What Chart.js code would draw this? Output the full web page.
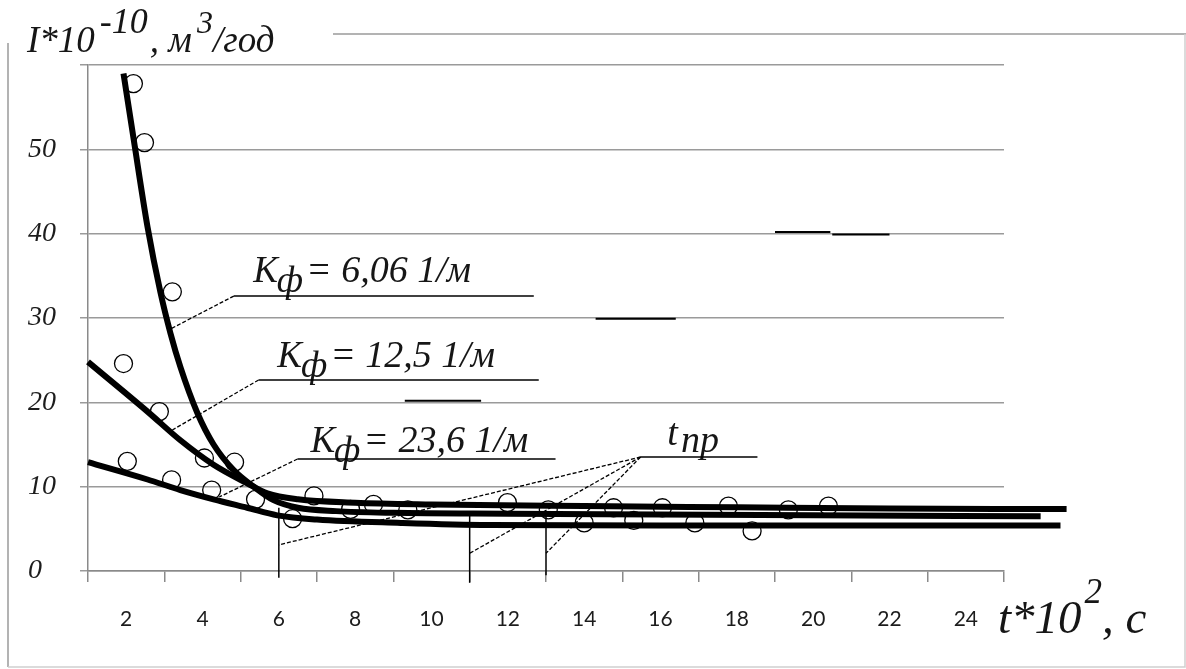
<!DOCTYPE html>
<html><head><meta charset="utf-8">
<script src="https://cdn.jsdelivr.net/npm/chart.js@4"></script>
<style>html,body{margin:0;padding:0;background:#fff;overflow:hidden}</style>
</head><body>
<canvas id="c" width="1186" height="669"></canvas>
<script>
// ---- data ----
const xTickLabels = [2, 4, 6, 8, 10, 12, 14, 16, 18, 20, 22, 24];
const yTickLabels = [0, 10, 20, 30, 40, 50];
const kfLabels = ['6,06', '12,5', '23,6'];

// fitted curve, Kf = 6,06 1/m
const curveA_t = [1.93, 2.2, 2.56, 2.9, 3.16, 3.42, 3.86, 4.29, 4.81, 5.34, 5.86, 6.5, 7.5, 9, 12, 16, 20, 25.96];
const curveA_I = [59.0, 51.1, 40.8, 33.0, 28.2, 24.2, 18.8, 15.0, 12.0, 10.0, 8.4, 7.5, 7.1, 6.9, 6.8, 6.7, 6.6, 6.5];
// fitted curve, Kf = 12,5 1/m
const curveB_t = [1, 2.56, 3.42, 4.29, 5.17, 5.7, 6.5, 8, 10, 14, 18, 22, 26.64];
const curveB_I = [24.8, 18.9, 15.5, 12.6, 10.4, 9.2, 8.5, 8.1, 7.9, 7.7, 7.55, 7.4, 7.35];
// fitted curve, Kf = 23,6 1/m
const curveC_t = [1, 2.56, 3.42, 4.29, 5.17, 5.96, 7, 9.2, 11.5, 16, 20, 26.48];
const curveC_I = [12.9, 10.85, 9.6, 8.5, 7.5, 6.6, 6.1, 5.7, 5.45, 5.4, 5.4, 5.4];
// measured points
const pts_t = [2.19, 2.48, 3.21, 1.93, 2.87, 2.03, 3.19, 4.05, 4.84, 4.24, 5.39, 6.36, 6.92, 7.88, 8.48, 9.38, 11.99, 13.06, 14.0, 14.77, 15.3, 16.05, 16.9, 17.78, 18.4, 19.35, 20.4];
const pts_I = [57.8, 50.8, 33.1, 24.6, 18.9, 13.0, 10.8, 13.4, 12.9, 9.6, 8.5, 6.2, 8.9, 7.3, 7.9, 7.25, 8.1, 7.25, 5.7, 7.5, 6.0, 7.5, 5.7, 7.7, 4.75, 7.25, 7.7];
// t_пр markers
const tprT = [6, 11, 13];

// ---- annotation layout (data units) ----
const kfAnn = [
  {tx: 5.33, ty: 34.27, ul: [4.82, 12.68, 32.6], lead: [3.11, 28.58]},
  {tx: 5.96, ty: 24.2, ul: [5.47, 12.81, 22.65], lead: [3.21, 16.72]},
  {tx: 6.83, ty: 14.11, ul: [6.49, 13.25, 13.28], lead: [4.44, 8.78]}
];
const tprAnn = {tx: 16.18, ty: 14.94, ul: [15.48, 18.54, 13.52],
  vTop: [7.5, 6.9, 6.6], vBot: [-0.8, -1.4, -0.5], leadY: [3.1, 2.1, 2.1]};
const strokes = [[19.0, 20.45, 40.2], [20.5, 22.0, 39.9], [14.3, 16.4, 29.9], [9.3, 11.3, 20.2]];

const pairs = (a, b) => a.map((v, i) => ({x: v, y: b[i]}));
const serif = '"Liberation Serif", "Times New Roman", serif';
const ink = '#161616';

const deco = {
  id: 'deco',
  afterDraw(chart) {
    const c = chart.ctx, xs = chart.scales.x, ys = chart.scales.y;
    const X = v => xs.getPixelForValue(v), Y = v => ys.getPixelForValue(v);
    c.save();
    // frame
    c.lineWidth = 1.5;
    c.strokeStyle = '#9a9a9a';
    c.beginPath(); c.moveTo(8, 43); c.lineTo(8, 667); c.stroke();
    c.beginPath(); c.moveTo(333, 34); c.lineTo(1186, 34); c.stroke();
    c.strokeStyle = '#cfcfcf';
    c.beginPath(); c.moveTo(8, 667); c.lineTo(1185, 667); c.lineTo(1185, 34); c.stroke();

    // short stray strokes
    c.strokeStyle = '#000'; c.lineWidth = 2;
    strokes.forEach(s => { c.beginPath(); c.moveTo(X(s[0]), Y(s[2])); c.lineTo(X(s[1]), Y(s[2])); c.stroke(); });

    c.fillStyle = ink;
    c.textBaseline = 'alphabetic';
    const txt = (s, x, y, size) => { c.font = 'italic ' + size + 'px ' + serif; c.fillText(s, x, y); return c.measureText(s).width; };

    // y-axis title
    let x = 27;
    x += txt('I*10', x, 52, 37) + 5;
    x += txt('-10', x, 33, 36) + 2;
    x += txt(', м', x, 52, 37) + 5;
    x += txt('3', x, 33, 32);
    txt('/год', x, 52, 37);
    // x-axis title
    x = 998;
    x += txt('t*10', x, 633, 47) + 3;
    x += txt('2', x, 603, 35);
    txt(', с', x, 633, 47);

    // Kf annotations
    kfAnn.forEach((a, i) => {
      const x0 = X(a.tx), y0 = Y(a.ty);
      let w = txt('К', x0, y0, 37);
      let w2 = txt('ф', x0 + w - 1, y0 + 10, 37);
      txt('= ' + kfLabels[i] + ' 1/м', x0 + w + w2 + 2, y0, 38);
      c.strokeStyle = '#000'; c.lineWidth = 1.5; c.setLineDash([]);
      c.beginPath(); c.moveTo(X(a.ul[0]), Y(a.ul[2])); c.lineTo(X(a.ul[1]), Y(a.ul[2])); c.stroke();
      c.lineWidth = 1.3; c.setLineDash([4, 2]);
      c.beginPath(); c.moveTo(X(a.ul[0]), Y(a.ul[2])); c.lineTo(X(a.lead[0]), Y(a.lead[1])); c.stroke();
      c.setLineDash([]);
    });

    // t_пр annotation
    const tx = X(tprAnn.tx), ty = Y(tprAnn.ty);
    let wt = txt('t', tx, ty, 38);
    txt('пр', tx + wt + 3, ty + 7, 38);
    c.strokeStyle = '#000'; c.lineWidth = 1.5;
    c.beginPath(); c.moveTo(X(tprAnn.ul[0]), Y(tprAnn.ul[2])); c.lineTo(X(tprAnn.ul[1]), Y(tprAnn.ul[2])); c.stroke();
    tprT.forEach((t, i) => {
      c.lineWidth = 1.5; c.setLineDash([]);
      c.beginPath(); c.moveTo(X(t), Y(tprAnn.vTop[i])); c.lineTo(X(t), Y(tprAnn.vBot[i])); c.stroke();
      c.lineWidth = 1.3; c.setLineDash([4, 2]);
      c.beginPath(); c.moveTo(X(tprAnn.ul[0]), Y(tprAnn.ul[2])); c.lineTo(X(t), Y(tprAnn.leadY[i])); c.stroke();
    });
    c.restore();
  }
};

const curve = (t, I) => ({
  type: 'line', data: pairs(t, I), borderColor: '#000', borderWidth: 6,
  pointRadius: 0, cubicInterpolationMode: 'monotone', clip: false, fill: false, showLine: true
});

new Chart(document.getElementById('c'), {
  type: 'scatter',
  data: {
    datasets: [
      {data: pairs(pts_t, pts_I), pointRadius: 9, pointBorderColor: '#000',
       pointBackgroundColor: 'rgba(0,0,0,0)', pointBorderWidth: 1.3, showLine: false},
      curve(curveA_t, curveA_I),
      curve(curveB_t, curveB_I),
      curve(curveC_t, curveC_I)
    ]
  },
  options: {
    responsive: false, animation: false, devicePixelRatio: 1,
    layout: {padding: {left: 28, right: 182, top: 65, bottom: 0}},
    plugins: {legend: {display: false}, tooltip: {enabled: false}},
    scales: {
      x: {
        type: 'linear', min: 1, max: 25,
        afterBuildTicks: s => { s.ticks = []; for (let v = 1; v <= 25; v++) s.ticks.push({value: v}); },
        ticks: {autoSkip: false, maxRotation: 0,
          callback: v => xTickLabels.includes(v) ? String(v) : '',
          font: {family: 'Lato', size: 21}, color: '#1c1c1c', padding: 25},
        grid: {drawOnChartArea: false, tickLength: 11, lineWidth: 1.5,
          tickColor: ctx => (ctx.tick && ctx.tick.value % 2 === 1) ? '#8a8a8a' : 'rgba(0,0,0,0)'},
        border: {color: '#8a8a8a', width: 1.5},
        afterFit: s => { s.height = 98; }
      },
      y: {
        min: 0, max: 60,
        afterBuildTicks: s => { s.ticks = []; for (let v = 0; v <= 60; v += 10) s.ticks.push({value: v}); },
        ticks: {callback: v => yTickLabels.includes(v) ? String(v) : '',
          font: {family: serif, style: 'italic', size: 28}, color: '#1c1c1c', crossAlign: 'far'},
        grid: {color: '#9a9a9a', lineWidth: 1.5, tickLength: 8},
        border: {color: '#8a8a8a', width: 1.5},
        afterFit: s => { s.width = 60; }
      }
    }
  },
  plugins: [deco]
});
</script>
</body></html>
